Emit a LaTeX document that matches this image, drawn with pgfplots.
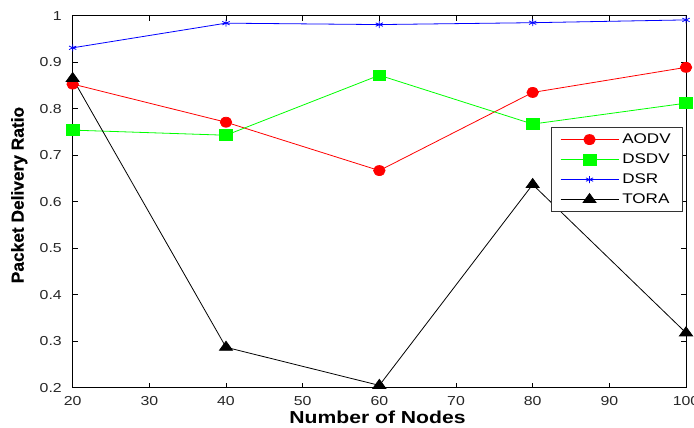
\documentclass[border=0pt]{standalone}
\usepackage{pgfplots}
\pgfplotsset{compat=1.18}
\usepackage{fontspec}
\setmainfont{Liberation Sans}[FakeStretch=1.22]
\newfontfamily\yfont{Liberation Sans}[FakeBold=0.6]

\pgfplotstableread{
x     aodv   dsdv   dsr    tora
20    0.853  0.754  0.931  0.865
40    0.771  0.743  0.984  0.287
60    0.667  0.872  0.981  0.205
80    0.835  0.767  0.985  0.637
100   0.889  0.812  0.991  0.318
}\pdrdata

\begin{document}
\begin{tikzpicture}
\begin{axis}[
  scale only axis, width=460pt, height=279pt,
  xmin=20, xmax=100, ymin=0.2, ymax=1,
  xtick={20,30,40,50,60,70,80,90,100},
  ytick={0.2,0.3,0.4,0.5,0.6,0.7,0.8,0.9,1},
  tick align=inside, major tick length=3.75pt,
  axis line style={line width=0.6pt, black},
  tick style={line width=0.6pt, black},
  /pgf/number format/assume math mode=true,
  /pgf/number format/fixed, /pgf/number format/precision=1,
  tick label style={font=\fontsize{9.75}{11}\selectfont, text=black!85},
  xticklabel style={anchor=base, yshift=-13pt},
  yticklabel style={anchor=east, inner sep=0pt, xshift=-8pt},
  every axis x label/.style={at={(rel axis cs:0.497,0)}, anchor=base, yshift=-27.2pt,
     font=\fontsize{13}{15}\selectfont\bfseries},
  every axis y label/.style={at={(rel axis cs:-0.0663,0.518)}, rotate=90, anchor=south,
     font=\yfont\fontsize{13}{15}\selectfont\bfseries},
  xlabel={Number of Nodes},
  ylabel={Packet Delivery Ratio},
  legend cell align=left,
  legend image code/.code={\draw[mark repeat=2,mark phase=2,#1] plot coordinates {(0pt,0pt)(21.75pt,0pt)(43.5pt,0pt)};},
  legend style={at={(rel axis cs:0.995,0.70)}, anchor=north east, draw=black!80, fill=white,
     font=\fontsize{10.5}{12}\selectfont, row sep=3.5pt, inner xsep=6.5pt, inner ysep=3.25pt,
     nodes={inner xsep=2.5pt, inner ysep=1pt, text height=7.5pt, text depth=2pt}},
]
\addplot[red, line width=0.6pt, mark=*, mark size=3.75pt, mark options={fill=red, draw=red, xscale=1.15}]
  table[x=x, y=aodv] {\pdrdata};
\addlegendentry{AODV}
\addplot[green, line width=0.6pt, mark=square*, mark size=4pt, mark options={fill=green, draw=green, xscale=1.2}]
  table[x=x, y=dsdv] {\pdrdata};
\addlegendentry{DSDV}
\addplot[blue, line width=0.6pt, mark=asterisk, mark size=2.6pt, mark options={draw=blue, xscale=1.2}]
  table[x=x, y=dsr] {\pdrdata};
\addlegendentry{DSR}
\addplot[black, line width=0.6pt, mark=triangle*, mark size=4.5pt, mark options={fill=black, draw=black, xscale=1.25}]
  table[x=x, y=tora] {\pdrdata};
\addlegendentry{TORA}
\end{axis}
\pgfresetboundingbox
\path[use as bounding box] ([xshift=-54.5pt,yshift=-30.2pt]current axis.south west) rectangle ([xshift=6pt,yshift=11.8pt]current axis.north east);
\end{tikzpicture}
\end{document}
